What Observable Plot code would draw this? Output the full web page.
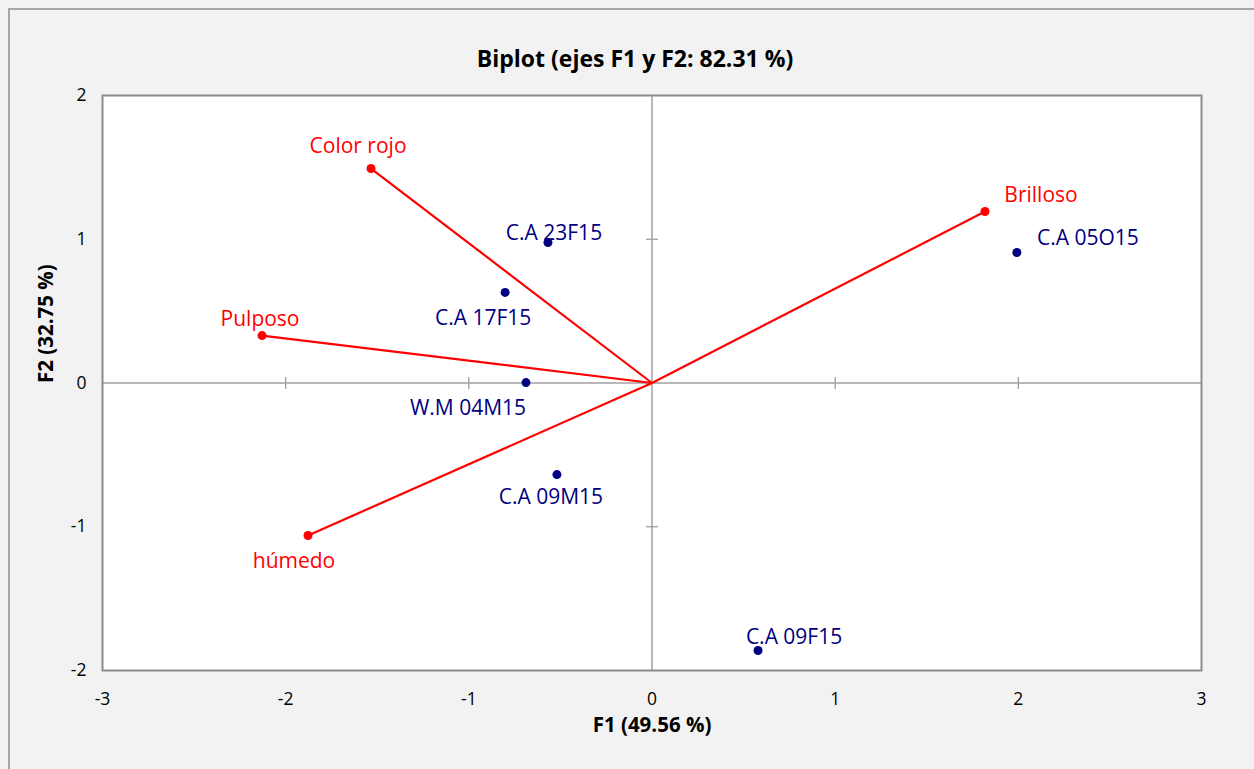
<!DOCTYPE html>
<html>
<head>
<meta charset="utf-8">
<script src="https://cdn.jsdelivr.net/npm/d3@7"></script>
<script src="https://cdn.jsdelivr.net/npm/@observablehq/plot@0.6"></script>
<style>
  html, body { margin: 0; padding: 0; background: #f2f2f2; }
  #wrap { position: relative; width: 1254px; height: 769px; background: #f2f2f2; overflow: hidden; }
  #border { position: absolute; left: 8px; top: 8px; width: 1300px; height: 800px;
            border-left: 2px solid #a6a6a6; border-top: 2px solid #a6a6a6; box-sizing: border-box; }
  #chart { position: absolute; left: 0; top: 0; }
</style>
</head>
<body>
<div id="wrap"><div id="border"></div><div id="chart"></div></div>
<script>
// ---- data ----
const variableNames = ["Color rojo", "Brilloso", "Pulposo", "húmedo"];
const variableF1 = [-1.534, 1.818, -2.129, -1.878];
const variableF2 = [1.492, 1.193, 0.330, -1.061];

const observationNames = ["C.A 23F15", "C.A 17F15", "W.M 04M15", "C.A 09M15", "C.A 09F15", "C.A 05O15"];
const observationF1 = [-0.568, -0.802, -0.688, -0.519, 0.579, 1.992];
const observationF2 = [0.977, 0.630, 0.003, -0.637, -1.861, 0.908];

const xTicks = [-3, -2, -1, 0, 1, 2, 3];
const yTicks = [-2, -1, 0, 1, 2];

const title = "Biplot (ejes F1 y F2: 82.31 %)";
const xLabel = "F1 (49.56 %)";
const yLabel = "F2 (32.75 %)";

// ---- layout config (label placement relative to point, px) ----
const labelPlacement = {
  "Color rojo": [-13, -22],
  "Brilloso": [56, -16],
  "Pulposo": [-2, -16],
  "húmedo": [-14, 26],
  "C.A 23F15": [6, -9],
  "C.A 17F15": [-22, 26],
  "W.M 04M15": [-58, 26],
  "C.A 09M15": [-6, 23],
  "C.A 09F15": [36, -13],
  "C.A 05O15": [71, -14]
};

const variables = variableNames.map((n, i) => ({name: n, f1: variableF1[i], f2: variableF2[i]}));
const observations = observationNames.map((n, i) => ({name: n, f1: observationF1[i], f2: observationF2[i]}));

const RED = "#ff0000";
const NAVY = "#000080";
const AXIS = "#a0a0a0";

const vTick = {draw(ctx) { ctx.moveTo(0, -6); ctx.lineTo(0, 6); }};
const hTick = {draw(ctx) { ctx.moveTo(-6, 0); ctx.lineTo(6, 0); }};

const labelMarks = [...variables.map(d => ({...d, color: RED})), ...observations.map(d => ({...d, color: NAVY}))]
  .map(d => Plot.text([d], {
    x: "f1", y: "f2", text: "name", fill: d.color,
    dx: labelPlacement[d.name][0], dy: labelPlacement[d.name][1],
    fontSize: 21
  }));

const chart = Plot.plot({
  width: 1254,
  height: 769,
  marginLeft: 102,
  marginRight: 53,
  marginTop: 95,
  marginBottom: 99,
  style: {background: "transparent", fontFamily: "Open Sans", color: "#000"},
  x: {domain: [-3, 3]},
  y: {domain: [-2, 2]},
  marks: [
    Plot.frame({fill: "white", stroke: "none"}),
    Plot.ruleX([0], {stroke: AXIS, strokeWidth: 1.5}),
    Plot.ruleY([0], {stroke: AXIS, strokeWidth: 1.5}),
    Plot.dot(xTicks.filter(t => t !== 0 && Math.abs(t) !== 3), {x: d => d, y: d => 0, symbol: vTick, stroke: AXIS, strokeWidth: 1.3, r: 6}),
    Plot.dot(yTicks.filter(t => t !== 0 && Math.abs(t) !== 2), {x: d => 0, y: d => d, symbol: hTick, stroke: AXIS, strokeWidth: 1.3, r: 6}),
    Plot.frame({stroke: "#8c8c8c", strokeWidth: 2}),
    Plot.axisX({ticks: xTicks, tickSize: 0, tickPadding: 22, fontSize: 17.5, label: null, tickFormat: d => String(d)}),
    Plot.axisY({ticks: yTicks, tickSize: 0, tickPadding: 16, fontSize: 17.5, label: null, tickFormat: d => String(d)}),
    Plot.link(variables, {x1: d => 0, y1: d => 0, x2: "f1", y2: "f2", stroke: RED, strokeWidth: 2.2}),
    Plot.dot(variables, {x: "f1", y: "f2", fill: RED, r: 4.5}),
    Plot.dot(observations, {x: "f1", y: "f2", fill: NAVY, r: 4.5}),
    ...labelMarks,
    Plot.text([title], {frameAnchor: "top", dx: -17, dy: -45, fontSize: 23, fontWeight: "bold"}),
    Plot.text([xLabel], {frameAnchor: "bottom", dy: 61, fontSize: 20.5, fontWeight: "bold"}),
    Plot.text([yLabel], {frameAnchor: "left", dx: -56, rotate: -90, fontSize: 20.5, fontWeight: "bold"})
  ]
});
document.getElementById("chart").appendChild(chart);
</script>
</body>
</html>
